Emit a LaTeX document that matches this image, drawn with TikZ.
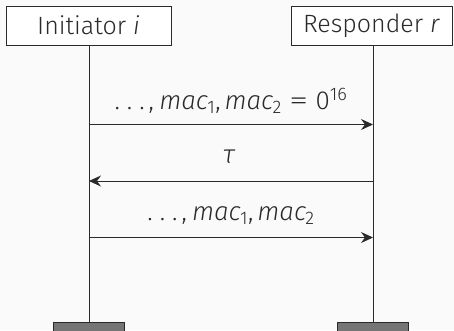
\documentclass[tikz,border=0pt]{standalone}
\usepackage{fontspec}
\setmainfont{Fira Sans Light}[ItalicFont={Fira Sans Light Italic}]
\newfontfamily\symit{Fira Sans Light Italic}
\newfontfamily\symup{Fira Sans Light}
\usetikzlibrary{arrows.meta}
\definecolor{ink}{HTML}{2A2A2A}
\definecolor{bg}{HTML}{FAFAFA}
\definecolor{stub}{HTML}{757575}
\newcommand\macsub[1]{{\symit mac}\kern-0.03em\textsubscript{\symup #1}}
\newcommand\dotsep{{\symup .\kern0.27em.\kern0.27em.\kern0.15em,\kern0.2em}}
\newcommand\wideeq{\scalebox{1.5}[1]{\symup =}}
\begin{document}
\begin{tikzpicture}[x=1pt,y=-1pt,
  every node/.style={text=ink},
  actor/.style={draw=ink,line width=0.9pt,fill=white,minimum height=39pt,inner sep=0pt,font=\fontsize{25}{29}\selectfont},
  endstub/.style={draw=ink,line width=0.9pt,fill=stub,minimum width=71pt,minimum height=14pt,inner sep=0pt},
  life/.style={draw=ink,line width=0.9pt},
  msg/.style={draw=ink,line width=0.9pt,-{Stealth[length=12pt,width=11pt,inset=4pt]}},
  lbl/.style={anchor=base,font=\fontsize{26}{30}\selectfont}]
\fill[bg] (0,0) rectangle (454,330);
\useasboundingbox (0,0) rectangle (454,330);
% participants
\node[actor,minimum width=165pt] (ini) at (88.5,25.5) {Initiator \textit{i}};
\node[actor,minimum width=161pt] (res) at (371.5,25.5) {Responder \textit{r}};
% lifeline ends
\node[endstub] (iend) at (89,329.7) {};
\node[endstub] (rend) at (373,329.7) {};
\coordinate (itop) at (89,45);
\coordinate (rtop) at (373,45);
\draw[life] (itop) -- (iend.north);
\draw[life] (rtop) -- (rend.north);
% message anchors on the lifelines
\coordinate (i1) at (89,124.5);
\coordinate (r1) at (373,124.5);
\coordinate (i2) at (89,181);
\coordinate (r2) at (373,181);
\coordinate (i3) at (89,237.5);
\coordinate (r3) at (373,237.5);
% messages
\draw[msg] (i1) -- (r1);
\draw[msg] (r2) -- (i2);
\draw[msg] (i3) -- (r3);
\node[lbl] (m1) at (231,109.3) {\dotsep\macsub{1}{\symup ,}\kern0.15em\macsub{2}\kern0.28em\wideeq\kern0.28em{\symup 0\textsuperscript{16}}};
\node[lbl] (m2) at (229,163) {{\symit τ}};
\node[lbl] (m3) at (231,220.7) {\dotsep\macsub{1}{\symup ,}\kern0.15em\macsub{2}};
\end{tikzpicture}
\end{document}
